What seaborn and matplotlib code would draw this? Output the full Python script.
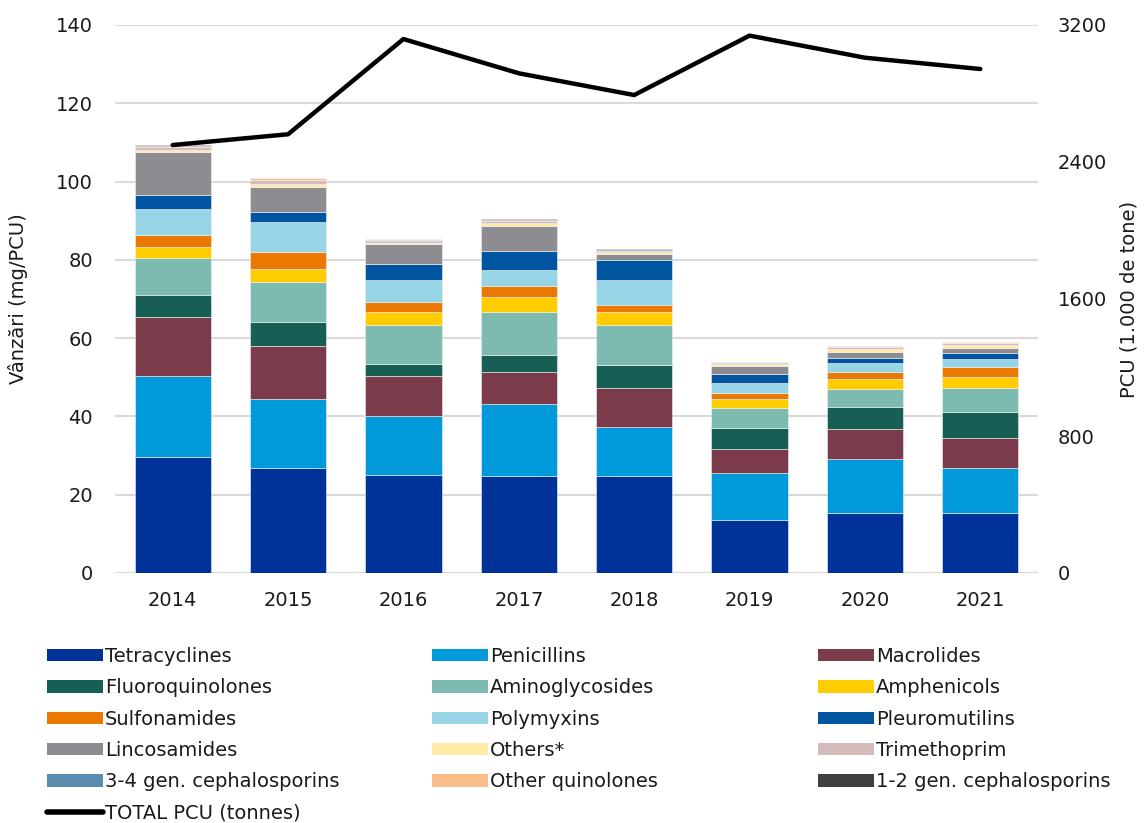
import numpy as np
import matplotlib
matplotlib.use("Agg")
import matplotlib.pyplot as plt
import seaborn as sns
from matplotlib.patches import Patch
from matplotlib.lines import Line2D

years = ["2014", "2015", "2016", "2017", "2018", "2019", "2020", "2021"]

tetracyclines    = [29.7, 26.7, 25.0, 24.9, 24.8, 13.5, 15.3, 15.4]
penicillins      = [20.7, 17.8, 15.2, 18.3, 12.6, 12.0, 13.7, 11.3]
macrolides       = [15.1, 13.5, 10.1, 8.2, 9.8, 6.3, 7.7, 7.9]
fluoroquinolones = [5.4, 6.0, 3.1, 4.3, 6.0, 5.2, 5.6, 6.6]
aminoglycosides  = [9.7, 10.4, 10.0, 11.0, 10.2, 5.1, 4.8, 6.1]
amphenicols      = [2.8, 3.3, 3.3, 3.9, 3.3, 2.4, 2.4, 2.7]
sulfonamides     = [3.0, 4.4, 2.6, 2.7, 1.7, 1.6, 1.9, 2.5]
polymyxins       = [6.7, 7.5, 5.6, 4.1, 6.4, 2.5, 2.3, 2.2]
pleuromutilins   = [3.5, 2.5, 4.1, 4.9, 5.2, 2.3, 1.1, 1.4]
lincosamides     = [11.0, 6.4, 5.0, 6.3, 1.5, 2.1, 1.7, 1.4]
others           = [0.5, 0.9, 0.4, 0.7, 0.5, 0.4, 0.7, 0.8]
trimethoprim     = [0.7, 1.0, 0.5, 0.6, 0.3, 0.3, 0.5, 0.4]
ceph_34          = [0.1, 0.1, 0.1, 0.1, 0.2, 0.1, 0.1, 0.1]
other_quinolones = [0.3, 0.3, 0.4, 0.3, 0.1, 0.05, 0.1, 0.1]
ceph_12          = [0.1, 0.05, 0.05, 0.05, 0.2, 0.1, 0.2, 0.2]

total_pcu = [2499, 2562, 3118, 2918, 2791, 3138, 3009, 2943]

series = [
    ("Tetracyclines", tetracyclines, "#003399"),
    ("Penicillins", penicillins, "#0099DA"),
    ("Macrolides", macrolides, "#7B3B4A"),
    ("Fluoroquinolones", fluoroquinolones, "#175E54"),
    ("Aminoglycosides", aminoglycosides, "#7DBBB0"),
    ("Amphenicols", amphenicols, "#FFCC00"),
    ("Sulfonamides", sulfonamides, "#EB7800"),
    ("Polymyxins", polymyxins, "#96D4E6"),
    ("Pleuromutilins", pleuromutilins, "#0055A0"),
    ("Lincosamides", lincosamides, "#8E8C91"),
    ("Others*", others, "#FFEBA6"),
    ("Trimethoprim", trimethoprim, "#D5BCBC"),
    ("3-4 gen. cephalosporins", ceph_34, "#5B8DB0"),
    ("Other quinolones", other_quinolones, "#F9BD8A"),
    ("1-2 gen. cephalosporins", ceph_12, "#404040"),
]

sns.set_theme(style="white")
plt.rcParams["font.family"] = ["DejaVu Sans"]
FS = 14

fig = plt.figure(figsize=(11.47, 8.23), dpi=100)
ax = fig.add_axes([115 / 1147, 1 - 573 / 823, (1038 - 115) / 1147, (573 - 25) / 823])

bottom = np.zeros(len(years))
for name, vals, col in series:
    sns.barplot(x=years, y=vals, bottom=bottom, color=col, width=0.66,
                edgecolor="#f2f2f2", linewidth=0.4, ax=ax, saturation=1)
    bottom = bottom + np.array(vals)

ax.set_ylim(0, 140)
ax.set_yticks(np.arange(0, 141, 20))
ax.set_xlim(-0.5, len(years) - 0.5)
ax.grid(axis="y", color="#d9d9d9", linewidth=1.5)
ax.set_axisbelow(True)
for s in ax.spines.values():
    s.set_visible(False)
ax.tick_params(axis="both", length=0, labelsize=FS, colors="#1a1a1a")
ax.tick_params(axis="x", pad=13)
ax.tick_params(axis="y", pad=16)
ax.set_ylabel("Vânzări (mg/PCU)", fontsize=FS, color="#1a1a1a", labelpad=20)
ax.set_xlabel("")

ax2 = ax.twinx()
sns.lineplot(x=np.arange(len(years)), y=total_pcu, color="black", linewidth=3.2,
             ax=ax2, solid_capstyle="round", solid_joinstyle="round")
ax2.set_ylim(0, 3200)
ax2.set_yticks([0, 800, 1600, 2400, 3200])
for s in ax2.spines.values():
    s.set_visible(False)
ax2.tick_params(axis="y", length=0, labelsize=FS, colors="#1a1a1a", pad=14)
ax2.set_ylabel("PCU (1.000 de tone)", fontsize=FS, color="#1a1a1a", labelpad=9)
ax2.grid(False)
ax.set_xlim(-0.5, len(years) - 0.5)

# Legend: three columns placed as in the reference
handles = [Patch(facecolor=c, edgecolor="none") for _, _, c in series]
labels = [n for n, _, _ in series]
line_handle = Line2D([0], [0], color="black", linewidth=4, solid_capstyle="round")

cols = [[0, 3, 6, 9, 12], [1, 4, 7, 10, 13], [2, 5, 8, 11, 14]]
xs = [47 / 1147, 432 / 1147, 818 / 1147]
for ci, idxs in enumerate(cols):
    h = [handles[i] for i in idxs]
    l = [labels[i] for i in idxs]
    if ci == 0:
        h.append(line_handle)
        l.append("TOTAL PCU (tonnes)")
    leg = fig.legend(h, l, loc="upper left", bbox_to_anchor=(xs[ci], 1 - 647 / 823),
                     frameon=False, fontsize=FS, handlelength=2.9, handleheight=0.62,
                     handletextpad=0.08, labelspacing=0.635, borderaxespad=0, borderpad=0)
    for t in leg.get_texts():
        t.set_color("#1a1a1a")

fig.savefig("out.png", dpi=100)
